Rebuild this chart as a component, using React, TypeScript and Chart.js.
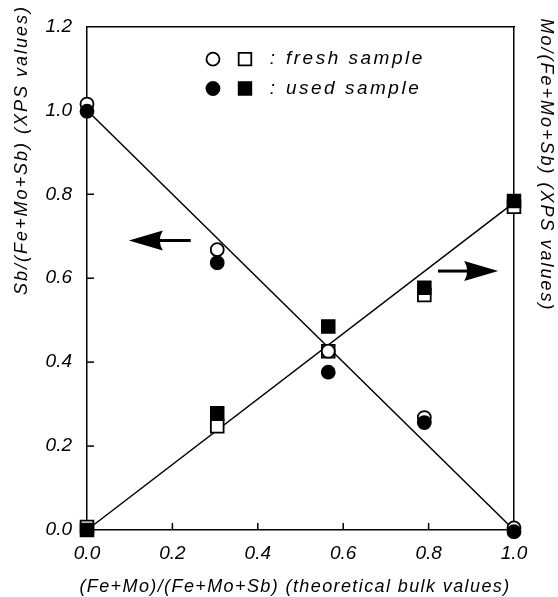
import React, { useEffect, useRef } from "react";
import { Chart, registerables } from "chart.js";
Chart.register(...registerables);

const X_VALUES = [0.0, 0.305, 0.565, 0.79, 1.0];
const SB_FRESH = [1.015, 0.668, 0.426, 0.268, 0.005];
const SB_USED = [0.998, 0.637, 0.376, 0.256, -0.004];
const MO_FRESH = [0.007, 0.247, 0.426, 0.56, 0.77];
const MO_USED = [0.0, 0.278, 0.485, 0.577, 0.784];
const SB_LINE_X = [0.0, 1.0];
const SB_LINE_Y = [1.0, 0.0];
const MO_LINE_X = [0.0, 1.0];
const MO_LINE_Y = [0.0, 0.78];
const X_TICKS = [0.0, 0.2, 0.4, 0.6, 0.8, 1.0];
const Y_TICKS = [0.0, 0.2, 0.4, 0.6, 0.8, 1.0, 1.2];
const X_TITLE = "(Fe+Mo)/(Fe+Mo+Sb) (theoretical bulk values)";
const Y_TITLE = "Sb/(Fe+Mo+Sb) (XPS values)";
const Y2_TITLE = "Mo/(Fe+Mo+Sb) (XPS values)";
const LEGEND = ["fresh sample", "used sample"];

const FONT = "Liberation Sans";

const pts = (xs: number[], ys: number[]) => xs.map((x, i) => ({ x, y: ys[i] }));

function drawArrow(ctx: CanvasRenderingContext2D, x0: number, y0: number, x1: number, y1: number) {
  const dir = Math.sign(x1 - x0);
  const headLen = 34;
  const headHalf = 10;
  const baseX = x1 - dir * headLen;
  ctx.beginPath();
  ctx.lineWidth = 3;
  ctx.moveTo(x0, y0);
  ctx.lineTo(baseX + dir * 4, y1);
  ctx.stroke();
  ctx.beginPath();
  ctx.moveTo(x1, y1);
  ctx.lineTo(baseX, y1 - headHalf);
  ctx.quadraticCurveTo(baseX + dir * 6, y1, baseX, y1 + headHalf);
  ctx.closePath();
  ctx.fill();
}

const overlayPlugin = {
  id: "overlay",
  beforeDatasetsDraw(chart: any) {
    const { ctx, scales } = chart;
    const x = scales.x, y = scales.y;
    ctx.save();
    ctx.strokeStyle = "#000";
    ctx.lineWidth = 1.5;
    X_TICKS.slice(1, -1).forEach((v) => {
      const px = x.getPixelForValue(v);
      ctx.beginPath();
      ctx.moveTo(px, y.bottom);
      ctx.lineTo(px, y.bottom - 7);
      ctx.stroke();
    });
    Y_TICKS.slice(1, -1).forEach((v) => {
      const py = y.getPixelForValue(v);
      ctx.beginPath();
      ctx.moveTo(x.left, py);
      ctx.lineTo(x.left + 7, py);
      ctx.stroke();
    });
    ctx.restore();
  },
  afterDraw(chart: any) {
    const { ctx, scales } = chart;
    const x = scales.x, y = scales.y;
    ctx.save();
    ctx.fillStyle = "#000";
    ctx.strokeStyle = "#000";

    // arrows
    drawArrow(ctx, x.getPixelForValue(0.243), y.getPixelForValue(0.69), x.getPixelForValue(0.098), y.getPixelForValue(0.69));
    drawArrow(ctx, x.getPixelForValue(0.822), y.getPixelForValue(0.617), x.getPixelForValue(0.963), y.getPixelForValue(0.617));

    // legend
    const rows = [1.122, 1.052];
    rows.forEach((ry, i) => {
      const py = y.getPixelForValue(ry);
      const cx = x.getPixelForValue(0.295);
      const sx = x.getPixelForValue(0.37);
      ctx.lineWidth = 1.8;
      ctx.beginPath();
      ctx.arc(cx, py, 6.5, 0, Math.PI * 2);
      ctx.fillStyle = i === 0 ? "#fff" : "#000";
      ctx.fill();
      ctx.stroke();
      ctx.beginPath();
      ctx.rect(sx - 6.3, py - 6.3, 12.6, 12.6);
      ctx.fillStyle = i === 0 ? "#fff" : "#000";
      ctx.fill();
      ctx.stroke();
      ctx.fillStyle = "#000";
      ctx.font = `italic 19px "${FONT}"`;
      (ctx as any).letterSpacing = "2.5px";
      ctx.textBaseline = "middle";
      ctx.textAlign = "left";
      ctx.fillText(":", x.getPixelForValue(0.428), py);
      ctx.fillText(LEGEND[i], x.getPixelForValue(0.466), py);
    });

    // axis titles
    ctx.font = `italic 18px "${FONT}"`;
    ctx.textAlign = "center";
    ctx.textBaseline = "middle";
    (ctx as any).letterSpacing = "1.4px";
    ctx.fillText(X_TITLE, 295, 587);

    (ctx as any).letterSpacing = "2px";
    ctx.save();
    ctx.translate(22, 150);
    ctx.rotate(-Math.PI / 2);
    ctx.fillText(Y_TITLE, 0, 0);
    ctx.restore();

    ctx.save();
    ctx.translate(546, 165);
    ctx.rotate(Math.PI / 2);
    ctx.fillText(Y2_TITLE, 0, 0);
    ctx.restore();

    ctx.restore();
  },
};

export default function App() {
  const ref = useRef<HTMLCanvasElement | null>(null);
  useEffect(() => {
    if (!ref.current) return;
    const lineDs = (data: any[]) => ({
      type: "line" as const,
      data,
      showLine: true,
      borderColor: "#000",
      borderWidth: 1.5,
      pointRadius: 0,
      fill: false,
      clip: false as any,
    });
    const markerDs = (data: any[], style: string, filled: boolean) => ({
      type: "scatter" as const,
      data,
      pointStyle: style,
      pointRadius: style === "rect" ? 9 : 6.5,
      pointBorderWidth: 1.8,
      pointBackgroundColor: filled ? "#000" : "#fff",
      pointBorderColor: "#000",
      backgroundColor: filled ? "#000" : "#fff",
      borderColor: "#000",
      clip: false as any,
    });
    const chart = new Chart(ref.current, {
      type: "scatter",
      data: {
        datasets: [
          markerDs(pts(X_VALUES, SB_USED), "circle", true),
          markerDs(pts(X_VALUES, MO_USED), "rect", true),
          markerDs(pts(X_VALUES, SB_FRESH), "circle", false),
          markerDs(pts(X_VALUES, MO_FRESH), "rect", false),
          lineDs(pts(SB_LINE_X, SB_LINE_Y)),
          lineDs(pts(MO_LINE_X, MO_LINE_Y)),
        ] as any,
      },
      options: {
        animation: false,
        responsive: false,
        devicePixelRatio: 1,
        layout: { padding: 0 },
        plugins: { legend: { display: false }, tooltip: { enabled: false } },
        scales: {
          x: {
            type: "linear",
            position: "bottom",
            min: 0,
            max: 1.0,
            afterBuildTicks: (s: any) => { s.ticks = X_TICKS.map((v) => ({ value: v })); },
            afterFit: (s: any) => { s.height = 67; },
            ticks: {
              callback: (v: any) => Number(v).toFixed(1),
              color: "#000",
              font: { family: FONT, size: 19, style: "italic" },
              padding: 12,
              maxRotation: 0,
            },
            grid: { drawOnChartArea: false, drawTicks: false },
            border: { display: true, color: "#000", width: 1.5 },
          },
          x2: {
            type: "linear",
            position: "top",
            min: 0,
            max: 1.0,
            afterFit: (s: any) => { s.height = 19; },
            ticks: { display: false },
            grid: { drawOnChartArea: false, drawTicks: false },
            border: { display: true, color: "#000", width: 1.5 },
          },
          y: {
            type: "linear",
            position: "left",
            min: 0,
            max: 1.2,
            afterBuildTicks: (s: any) => { s.ticks = Y_TICKS.map((v) => ({ value: v })); },
            afterFit: (s: any) => { s.width = 87; },
            ticks: {
              callback: (v: any) => Number(v).toFixed(1),
              color: "#000",
              font: { family: FONT, size: 19, style: "italic" },
              padding: 15,
            },
            grid: { drawOnChartArea: false, drawTicks: false },
            border: { display: true, color: "#000", width: 1.5 },
          },
          y2: {
            type: "linear",
            position: "right",
            min: 0,
            max: 1.2,
            afterFit: (s: any) => { s.width = 44; },
            ticks: { display: false },
            grid: { drawOnChartArea: false, drawTicks: false },
            border: { display: true, color: "#000", width: 1.5 },
          },
        },
      } as any,
      plugins: [overlayPlugin as any],
    });
    return () => chart.destroy();
  }, []);
  return (
    <div style={{ position: "absolute", left: 0, top: 0, width: 558, height: 597, background: "#fff" }}>
      <canvas ref={ref} width={558} height={597} />
    </div>
  );
}
